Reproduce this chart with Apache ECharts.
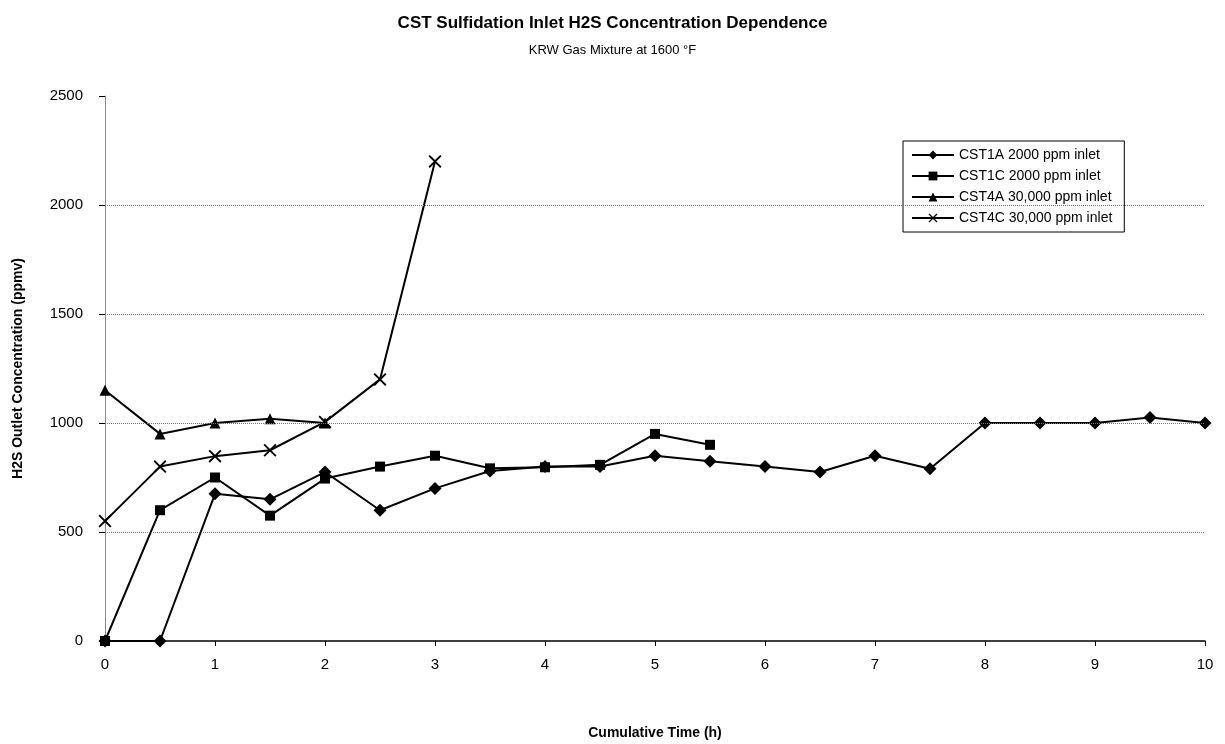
<!DOCTYPE html>
<html><head><meta charset="utf-8">
<script src="https://cdn.jsdelivr.net/npm/echarts@6/dist/echarts.min.js"></script>
<style>html,body{margin:0;padding:0;background:#fff}#c{width:1225px;height:744px}</style>
</head><body><div id="c"></div>
<script>
var xTicks = [0,1,2,3,4,5,6,7,8,9,10];
var yTicks = [0,500,1000,1500,2000,2500];
var gridValues = [500,1000,1500,2000];
var seriesNames = ['CST1A 2000 ppm inlet','CST1C 2000 ppm inlet','CST4A 30,000 ppm inlet','CST4C 30,000 ppm inlet'];
var cst1aX = [0,0.5,1,1.5,2,2.5,3,3.5,4,4.5,5,5.5,6,6.5,7,7.5,8,8.5,9,9.5,10];
var cst1aY = [0,0,675,650,775,600,700,780,800,800,850,825,800,775,850,790,1000,1000,1000,1025,1000];
var cst1cX = [0,0.5,1,1.5,2,2.5,3,3.5,4,4.5,5,5.5];
var cst1cY = [0,600,750,575,745,800,850,792,797,808,950,900];
var cst4aX = [0,0.5,1,1.5,2];
var cst4aY = [1150,950,1000,1020,1000];
var cst4cX = [0,0.5,1,1.5,2,2.5,3];
var cst4cY = [550,800,848,875,1005,1200,2200];

function pairs(xs, ys){ return xs.map(function(x,i){return [x, ys[i]];}); }
var chart = echarts.init(document.getElementById('c'));
var font = 'Liberation Sans, Arial, sans-serif';
function mk(name, data, symbol, size, extra){
  var s = {name:name, type:'line', data:data, symbol:symbol, symbolSize:size,
    showAllSymbol:true, animation:false,
    lineStyle:{color:'#000', width:2}, itemStyle:{color:'#000'}};
  for (var k in extra) s[k]=extra[k];
  return s;
}
var crossPath = 'path://M1,0 L5,4 L9,0 L10,1 L6,5 L10,9 L9,10 L5,6 L1,10 L0,9 L4,5 L0,1 Z';
chart.setOption({
  backgroundColor:'#fff',
  title:[{text:'CST Sulfidation Inlet H2S Concentration Dependence', left:'center', top:10,
    textStyle:{fontFamily:font, fontSize:17, fontWeight:'bold', color:'#000'}},
    {text:'KRW Gas Mixture at 1600 °F', left:'center', top:39,
    textStyle:{fontFamily:font, fontSize:13, fontWeight:'normal', color:'#000'}}],
  legend:{orient:'vertical', left:903, top:141, itemWidth:42, itemHeight:11, itemGap:7,
    padding:[7,12,7,8], borderColor:'#000', borderWidth:1, backgroundColor:'#fff',
    textStyle:{fontFamily:font, fontSize:14, color:'#000'}, data:seriesNames},
  grid:{left:105, right:20, top:96, bottom:103, containLabel:false, outerBoundsMode:'none'},
  xAxis:{type:'value', min:0, max:10, interval:1,
    name:'Cumulative Time (h)', nameLocation:'middle', nameGap:85,
    nameTextStyle:{fontFamily:font, fontSize:14, fontWeight:'bold', color:'#000'},
    axisLine:{lineStyle:{color:'#000', width:1.5}},
    axisTick:{show:true, inside:false, length:5, lineStyle:{color:'#000'}},
    axisLabel:{fontFamily:font, fontSize:15, color:'#000', margin:16, formatter:function(v){return xTicks.indexOf(v)>=0? String(v):'';}},
    splitLine:{show:false}},
  yAxis:{type:'value', min:0, max:2500, interval:500,
    name:'H2S Outlet Concentration (ppmv)', nameLocation:'middle', nameGap:80, nameRotate:90,
    nameTextStyle:{fontFamily:font, fontSize:14, fontWeight:'bold', color:'#000'},
    axisLine:{show:true, lineStyle:{color:'#888', width:1}},
    axisTick:{show:true, length:6, lineStyle:{color:'#000'}},
    axisLabel:{fontFamily:font, fontSize:15, color:'#000', margin:22, formatter:function(v){return yTicks.indexOf(v)>=0? String(v):'';}},
    splitLine:{show:false}},
  series:[
    mk(seriesNames[0], pairs(cst1aX,cst1aY), 'diamond', 13, {
      markLine:{silent:true, symbol:'none', label:{show:false}, animation:false,
        lineStyle:{color:'#777', type:'dotted', width:1},
        data:gridValues.map(function(v){return {yAxis:v};})}, z:3}),
    mk(seriesNames[1], pairs(cst1cX,cst1cY), 'rect', 10, {z:3}),
    mk(seriesNames[2], pairs(cst4aX,cst4aY), 'triangle', 11, {z:3}),
    mk(seriesNames[3], pairs(cst4cX,cst4cY), crossPath, 13, {z:3})
  ]
});
</script></body></html>
